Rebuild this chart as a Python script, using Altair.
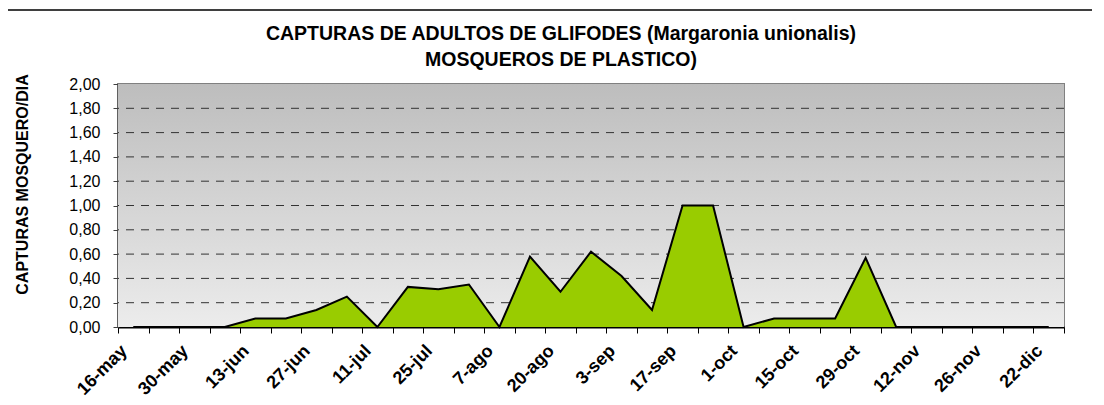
import altair as alt
import pandas as pd

# ---- data ----
values = [0, 0, 0, 0, 0.07, 0.07, 0.14, 0.25, 0, 0.33, 0.31, 0.35, 0, 0.58, 0.29,
          0.62, 0.42, 0.14, 1.0, 1.0, 0, 0.07, 0.07, 0.07, 0.57, 0, 0, 0, 0, 0, 0]
tick_labels = ["16-may", "30-may", "13-jun", "27-jun", "11-jul", "25-jul", "7-ago",
               "20-ago", "3-sep", "17-sep", "1-oct", "15-oct", "29-oct", "12-nov",
               "26-nov", "22-dic"]
y_ticks = [0.0, 0.2, 0.4, 0.6, 0.8, 1.0, 1.2, 1.4, 1.6, 1.8, 2.0]
grid_vals = [0.2, 0.4, 0.6, 0.8, 1.0, 1.2, 1.4, 1.6, 1.8]
title_lines = ["CAPTURAS DE ADULTOS DE GLIFODES (Margaronia unionalis)",
               "MOSQUEROS DE PLASTICO)"]
y_title = "CAPTURAS MOSQUERO/DIA"

n = len(values)
W, H = 946, 243
FONT = "Liberation Sans"

df = pd.DataFrame({"idx": list(range(n)), "val": values})
grid_df = pd.DataFrame({"v": grid_vals})

label_arr = "[" + ",".join("'" + s + "'" for s in tick_labels) + "]"
x_label_expr = ("(datum.value % 2 == 0 && datum.value < " + str(n) + ") ? "
                + label_arr + "[datum.value/2] : ''")

x_scale = alt.Scale(domain=[0, n], nice=False, zero=False)
y_scale = alt.Scale(domain=[0, 2], nice=False)

x_axis = alt.Axis(values=list(range(n + 1)), labelExpr=x_label_expr, title=None,
                  labelAngle=-45, labelAlign="right", labelBaseline="middle",
                  labelOffset=6, labelPadding=15, labelOverlap=False,
                  labelFlush=False, labelBound=False, tickSize=6,
                  tickColor="#000000", domainColor="#000000", domainWidth=2,
                  labelFont=FONT, labelFontSize=18, labelFontWeight="bold",
                  labelColor="#000000", grid=False)

y_axis = alt.Axis(values=y_ticks, title=y_title,
                  labelExpr="replace(format(datum.value, '.2f'), '.', ',')",
                  tickSize=5, labelPadding=13, tickColor="#404040",
                  domainColor="#404040", domainWidth=2,
                  labelFont=FONT, labelFontSize=16, labelColor="#000000",
                  titleFont=FONT, titleFontSize=16, titleFontWeight="bold",
                  titleColor="#000000", titleX=-96, titleY=100,
                  titleBaseline="middle", titleAlign="center", grid=False)

background = alt.Chart(alt.Data(values=[{}])).mark_rect(
    fill=alt.Gradient(gradient="linear",
                      stops=[alt.GradientStop(color="#bdbdbd", offset=0),
                             alt.GradientStop(color="#ececec", offset=1)],
                      x1=0, x2=0, y1=0, y2=1)
).encode(x=alt.value(0), x2=alt.value(W), y=alt.value(0), y2=alt.value(H))

frame = alt.Chart(alt.Data(values=[{}])).mark_rect(
    fill=None, stroke="#000000", strokeWidth=1.5
).encode(x=alt.value(-111), x2=alt.value(W + 200), y=alt.value(-74), y2=alt.value(H + 200))

grid = alt.Chart(grid_df).mark_rule(color="#333333", strokeWidth=1,
                                    strokeDash=[8, 7]).encode(
    y=alt.Y("v:Q", scale=y_scale, axis=y_axis)
)

area = alt.Chart(df).transform_calculate(
    pos="datum.idx + 0.5"
).mark_area(color="#99cc00", opacity=1,
            line={"color": "#000000", "strokeWidth": 2}).encode(
    x=alt.X("pos:Q", scale=x_scale, axis=x_axis),
    y=alt.Y("val:Q", scale=y_scale, axis=y_axis)
)

chart = alt.layer(background, grid, area, frame).properties(
    width=W, height=H,
    background="#ffffff",
    title=alt.TitleParams(text=title_lines, font=FONT, fontSize=19.5,
                          fontWeight="bold", color="#000000", lineHeight=26,
                          anchor="middle", frame="group", baseline="top",
                          dx=-30, dy=61, offset=0),
    autosize=alt.AutoSizeParams(type="none"),
    padding={"left": 110, "top": 76, "right": 28, "bottom": 76},
).configure_view(stroke="#808080", strokeWidth=2)

chart.save("out.html", embed_options={"renderer": "svg", "actions": False})
